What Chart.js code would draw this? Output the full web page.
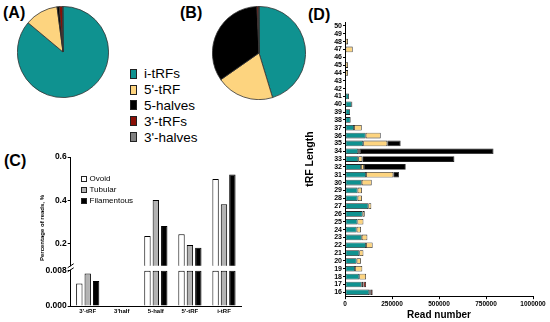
<!DOCTYPE html>
<html>
<head>
<meta charset="utf-8">
<script src="https://cdn.jsdelivr.net/npm/chart.js@4.4.1/dist/chart.umd.min.js"></script>
<style>
  body { margin: 0; width: 550px; height: 322px; background: #fff; position: relative; overflow: hidden;
         font-family: "Liberation Sans", Arial, sans-serif; color: #000; }
  canvas { position: absolute; }
  .tag { position: absolute; font-weight: bold; font-size: 16px; }
  .legend { position: absolute; }
  .legend .row { display: flex; align-items: center; white-space: nowrap; }
  .legend .sw { box-sizing: border-box; border: 1px solid #222; flex: none; }
  #cTitle { position: absolute; left: 42px; top: 228px; font-size: 6px; font-weight: bold;
            transform: translate(-50%, -50%) rotate(-90deg); white-space: nowrap; }
</style>
</head>
<body>
<div class="tag" style="left:3px;top:4px">(A)</div>
<div class="tag" style="left:180px;top:4px">(B)</div>
<div class="tag" style="left:4px;top:152px">(C)</div>
<div class="tag" style="left:308px;top:6px">(D)</div>

<canvas id="pieA" width="92" height="92" style="left:17px;top:6px;width:92px;height:92px"></canvas>
<canvas id="pieB" width="94" height="94" style="left:212px;top:6px;width:94px;height:94px"></canvas>
<div id="pieLegend" class="legend" style="left:130px;top:66px"></div>

<canvas id="panelC" width="215" height="182" style="left:30px;top:140px;width:215px;height:182px"></canvas>
<div id="cTitle">Percentage of reads, %</div>
<div id="cLegend" class="legend" style="left:81px;top:173px"></div>

<canvas id="panelD" width="250" height="322" style="left:300px;top:0px;width:250px;height:322px"></canvas>

<script>
// fragment classes (pies + panel D)
const fragmentTypes = ["i-tRFs", "5'-tRF", "5-halves", "3'-tRFs", "3'-halves"];
const fragmentColors = ["#0f9290", "#fdd47f", "#000000", "#8b1006", "#808080"];
const pieAShares = [86.1, 11.8, 0.8, 1.1, 0.2];
const pieBShares = [45.3, 20.0, 34.0, 0.55, 0.15];

// panel C
const groupLabels = ["3'-tRF", "3'half", "5-half", "5'-tRF", "i-tRF"];
const morphs = ["Ovoid", "Tubular", "Filamentous"];
const morphColors = ["#ffffff", "#b3b3b3", "#000000"];
const ovoid = [0.0051, 0, 0.237, 0.245, 0.499];
const tubular = [0.0074, 0, 0.402, 0.195, 0.383];
const filamentous = [0.0057, 0, 0.283, 0.183, 0.519];
const upperTicks = [0.2, 0.4, 0.6];
const lowerTicks = [0, 0.008];

// panel D
const lengths = [16, 17, 18, 19, 20, 21, 22, 23, 24, 25, 26, 27, 28, 29, 30, 31, 32, 33,
                 34, 35, 36, 37, 38, 39, 40, 41, 42, 43, 44, 45, 46, 47, 48, 49, 50];
const iTRFs = [129000, 89000, 76000, 53000, 62000, 76000, 112000, 89000, 62000, 66000, 94000, 124000,
               67000, 67000, 89000, 112000, 85000, 70000, 70000, 97000, 110000, 48000, 30000, 27000,
               36000, 21000, 5000, 5000, 0, 0, 5000, 0, 0, 0, 4000];
const tRFs5 = [8000, 9000, 36000, 39000, 23000, 22000, 35000, 30000, 23000, 32000, 11000, 16000,
               23000, 23000, 53000, 145000, 16000, 22000, 9000, 128000, 80000, 41000, 0, 0,
               3000, 0, 0, 0, 16000, 16000, 0, 41000, 16000, 0, 0];
const halves5 = [0, 0, 0, 0, 0, 0, 0, 0, 0, 0, 0, 0, 0, 0, 0, 30000, 222000, 490000,
                 711000, 71000, 0, 0, 0, 0, 0, 0, 0, 0, 0, 0, 0, 0, 0, 0, 0];
const tRFs3 = [10000, 14000, 0, 0, 0, 0, 0, 0, 0, 0, 0, 0, 0, 0, 0, 0, 0, 0,
               0, 0, 0, 0, 0, 0, 0, 0, 0, 0, 0, 0, 0, 0, 0, 0, 0];
const halves3 = [0, 0, 0, 0, 0, 0, 0, 0, 0, 0, 0, 0, 0, 0, 0, 0, 0, 0,
                 0, 0, 0, 0, 0, 0, 0, 0, 0, 0, 0, 0, 0, 0, 0, 0, 0];
const readTicks = [0, 250000, 500000, 750000, 1000000];

Chart.defaults.font.family = '"Liberation Sans", Arial, sans-serif';
Chart.defaults.color = "#000";
Chart.defaults.animation = false;

// legends as html
function addLegend(id, labels, colors, opt) {
  const el = document.getElementById(id);
  labels.forEach((lab, i) => {
    const row = document.createElement("div");
    row.className = "row";
    row.style.height = opt.rowH + "px";
    row.style.fontSize = opt.font + "px";
    const sw = document.createElement("span");
    sw.className = "sw";
    sw.style.width = opt.w + "px";
    sw.style.height = opt.h + "px";
    sw.style.background = colors[i];
    sw.style.marginRight = opt.gap + "px";
    row.appendChild(sw);
    row.appendChild(document.createTextNode(lab));
    el.appendChild(row);
  });
}
addLegend("pieLegend", fragmentTypes, fragmentColors, { rowH: 15.8, font: 13.5, w: 7, h: 10, gap: 7 });
addLegend("cLegend", morphs, morphColors, { rowH: 11, font: 8, w: 6, h: 6, gap: 2.5 });

function makePie(id, shares) {
  new Chart(document.getElementById(id), {
    type: "pie",
    data: {
      labels: fragmentTypes,
      datasets: [{ data: shares, backgroundColor: fragmentColors, borderColor: "#333", borderWidth: 0.8 }],
    },
    options: {
      responsive: false,
      plugins: { legend: { display: false }, tooltip: { enabled: false } },
    },
  });
}
makePie("pieA", pieAShares);
makePie("pieB", pieBShares);

// panel C: broken y axis = two stacked value scales (yLow listed first so yUp sits on top)
const LOW_MAX = 0.00914;
const UP_MIN = 0.1;
const cSets = [];
[ovoid, tubular, filamentous].forEach((vals, i) => {
  const common = { label: morphs[i], backgroundColor: morphColors[i], borderColor: "#000", borderWidth: 1,
                   stack: morphs[i], categoryPercentage: 0.74, barPercentage: 0.76 };
  cSets.push(Object.assign({}, common, { yAxisID: "yUp", data: vals.map((v) => (v > UP_MIN ? v : null)) }));
  cSets.push(Object.assign({}, common, { yAxisID: "yLow", data: vals.map((v) => Math.min(v, 0.008)) }));
});

const axisBreak = {
  id: "axisBreak",
  afterDraw(chart) {
    const c = chart.ctx;
    const x = chart.chartArea.left;
    const yTop = chart.scales.yUp.bottom;
    const yLow = chart.scales.yLow.getPixelForValue(0.008);
    c.save();
    c.fillStyle = "#fff";
    c.fillRect(x - 4, yTop + 0.5, 8, yLow - yTop - 1.5);
    c.strokeStyle = "#000";
    c.lineWidth = 1;
    c.beginPath();
    c.moveTo(x - 3, yTop + 2); c.lineTo(x + 3, yTop - 2);
    c.moveTo(x - 3, yLow + 1); c.lineTo(x + 3, yLow - 3);
    c.stroke();
    c.restore();
  },
};

new Chart(document.getElementById("panelC"), {
  type: "bar",
  data: { labels: groupLabels, datasets: cSets },
  options: {
    responsive: false,
    layout: { padding: { top: 17, right: 4, bottom: 4, left: 0 } },
    plugins: { legend: { display: false }, tooltip: { enabled: false } },
    scales: {
      x: {
        afterFit: (s) => { s.height = 12; },
        grid: { display: false, drawTicks: false },
        border: { color: "#000", width: 1 },
        ticks: { font: { size: 6, weight: "bold" }, padding: 2, maxRotation: 0 },
      },
      yLow: {
        type: "linear", position: "left",
        stack: "pct", stackWeight: 40, min: 0, max: LOW_MAX,
        afterFit: (s) => { s.width = 40.7; },
        afterBuildTicks: (s) => { s.ticks = lowerTicks.map((v) => ({ value: v })); },
        grid: { drawOnChartArea: false, tickLength: 3, color: "#000" },
        border: { color: "#000", width: 1 },
        ticks: { font: { size: 8.5, weight: "bold" }, padding: 1, callback: (v) => v.toFixed(3) },
      },
      yUp: {
        type: "linear", position: "left",
        stack: "pct", stackWeight: 108, min: UP_MIN, max: 0.6, beginAtZero: false,
        afterFit: (s) => { s.width = 40.7; },
        afterBuildTicks: (s) => { s.ticks = upperTicks.map((v) => ({ value: v })); },
        grid: { drawOnChartArea: false, tickLength: 3, color: "#000" },
        border: { color: "#000", width: 1 },
        ticks: { font: { size: 8.5, weight: "bold" }, padding: 1, callback: (v) => v.toFixed(1) },
      },
    },
  },
  plugins: [axisBreak],
});

// panel D: stacked horizontal bars by tRF length
const dSeries = [iTRFs, tRFs5, halves5, tRFs3, halves3];
new Chart(document.getElementById("panelD"), {
  type: "bar",
  data: {
    labels: lengths.map(String),
    datasets: dSeries.map((vals, i) => ({
      label: fragmentTypes[i], data: vals, backgroundColor: fragmentColors[i],
      borderColor: "#222", borderWidth: 0.8, borderSkipped: false,
      categoryPercentage: 1, barPercentage: 0.72,
    })),
  },
  options: {
    responsive: false,
    indexAxis: "y",
    layout: { padding: { top: 22, right: 17, bottom: 0, left: 0 } },
    plugins: { legend: { display: false }, tooltip: { enabled: false } },
    scales: {
      x: {
        stacked: true, min: 0, max: 1000000,
        afterBuildTicks: (s) => { s.ticks = readTicks.map((v) => ({ value: v })); },
        grid: { drawOnChartArea: false, tickLength: 3, color: "#000" },
        border: { color: "#000", width: 1 },
        ticks: { font: { size: 6.5, weight: "bold" }, padding: 1, maxRotation: 0, callback: (v) => String(v) },
        title: { display: true, text: "Read number", font: { size: 10, weight: "bold" }, padding: { top: 0, bottom: 1 } },
      },
      y: {
        stacked: true, reverse: true,
        afterFit: (s) => { s.width = 45; },
        grid: { drawOnChartArea: false, offset: false, tickLength: 2, color: "#000" },
        border: { color: "#000", width: 1 },
        ticks: { font: { size: 7, weight: "bold" }, padding: 1, autoSkip: false },
        title: { display: true, text: "tRF Length", font: { size: 10.5, weight: "bold" }, padding: { top: 4, bottom: 0 } },
      },
    },
  },
});
</script>
</body>
</html>
